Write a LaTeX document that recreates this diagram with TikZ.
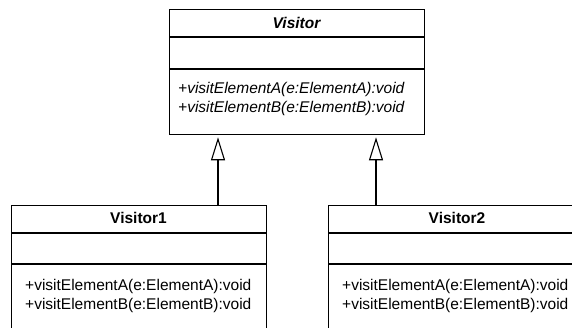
\documentclass[tikz,border=0pt]{standalone}
\usepackage{fontspec}
\setmainfont{Liberation Sans}
\usetikzlibrary{arrows.meta}
\begin{document}
\begin{tikzpicture}[x=1pt,y=-1pt,
  classbox/.style={draw, line width=1.3pt, rectangle, inner sep=0pt, anchor=north west},
  divider/.style={line width=1.3pt},
  ttl/.style={font=\fontsize{15.5}{19}\selectfont\bfseries, inner sep=0pt},
  ops/.style={font=\fontsize{15.5}{19}\selectfont, align=left, inner sep=0pt, anchor=west},
  gen/.style={line width=1.1pt, -{Triangle[open, length=23pt, width=14pt, line width=1.1pt]}}
]
\useasboundingbox (0,0) rectangle (572,328);
\clip (0,0) rectangle (572,328);
\fill[white] (0,0) rectangle (572,328);

% Visitor (abstract)
\node[classbox, minimum width=255pt, minimum height=125pt] (vis) at (169,9) {};
\draw[divider] (169,37) -- (424,37);
\draw[divider] (169,69) -- (424,69);
\node[ttl, font=\fontsize{15.5}{19}\selectfont\bfseries\itshape] (vist) at (296.5,23) {Visitor};
\node[ops, font=\fontsize{15.5}{19}\selectfont\itshape] (viso) at (178,99) {+visitElementA(e:ElementA):void\\+visitElementB(e:ElementB):void};

% Visitor1
\node[classbox, minimum width=255pt, minimum height=140pt] (v1) at (11,205) {};
\draw[divider] (11,233) -- (266,233);
\draw[divider] (11,264) -- (266,264);
\node[ttl] (v1t) at (138.5,218) {Visitor1};
\node[ops] (v1o) at (25,295.5) {+visitElementA(e:ElementA):void\\+visitElementB(e:ElementB):void};

% Visitor2
\node[classbox, minimum width=258pt, minimum height=140pt] (v2) at (328,205) {};
\draw[divider] (328,233) -- (586,233);
\draw[divider] (328,264) -- (586,264);
\node[ttl] (v2t) at (457,218) {Visitor2};
\node[ops] (v2o) at (342,295.5) {+visitElementA(e:ElementA):void\\+visitElementB(e:ElementB):void};

% generalisations
\coordinate (a1) at (218,0);
\coordinate (a2) at (376,0);
\draw[gen] (v1.north -| a1) -- ([yshift=-2pt]vis.south -| a1);
\draw[gen] (v2.north -| a2) -- ([yshift=-2pt]vis.south -| a2);
\end{tikzpicture}
\end{document}
